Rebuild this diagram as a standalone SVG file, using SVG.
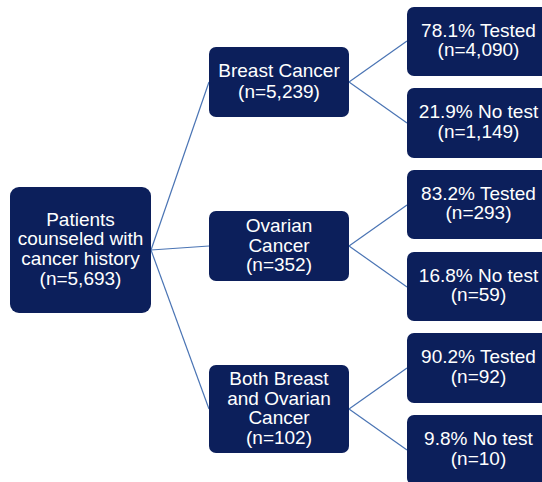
<svg xmlns="http://www.w3.org/2000/svg" width="542" height="482" viewBox="0 0 542 482">
<style>
.box{fill:#0c1f5b;}
.t{fill:#ffffff;font-family:"Liberation Sans",Arial,sans-serif;font-size:19px;text-anchor:middle;}
.c{stroke:#4a74b4;stroke-width:1.2;fill:none;}
</style>
<rect width="542" height="482" fill="#ffffff"/>
<g id="connectors">
<line class="c" x1="151" y1="250" x2="209" y2="82"/>
<line class="c" x1="151" y1="250" x2="209" y2="246"/>
<line class="c" x1="151" y1="250" x2="209" y2="409"/>
<line class="c" x1="349" y1="82" x2="407" y2="41"/>
<line class="c" x1="349" y1="82" x2="407" y2="123"/>
<line class="c" x1="349" y1="246" x2="407" y2="205"/>
<line class="c" x1="349" y1="246" x2="407" y2="287"/>
<line class="c" x1="349" y1="409" x2="407" y2="368"/>
<line class="c" x1="349" y1="409" x2="407" y2="450"/>
</g>
<g id="root">
<rect class="box" x="10" y="187" width="141" height="126" rx="9"/>
<text class="t" x="80.5" y="225.7">Patients</text>
<text class="t" x="80.5" y="245.3">counseled with</text>
<text class="t" x="80.5" y="264.9">cancer history</text>
<text class="t" x="80.5" y="284.5">(n=5,693)</text>
</g>
<g id="breast">
<rect class="box" x="209" y="47" width="140" height="70" rx="7"/>
<text class="t" x="279" y="77.3">Breast Cancer</text>
<text class="t" x="279" y="97.5">(n=5,239)</text>
</g>
<g id="ovarian">
<rect class="box" x="209" y="211" width="140" height="70" rx="7"/>
<text class="t" x="279" y="232">Ovarian</text>
<text class="t" x="279" y="251.6">Cancer</text>
<text class="t" x="279" y="271.2">(n=352)</text>
</g>
<g id="both">
<rect class="box" x="209" y="365" width="140" height="88" rx="7"/>
<text class="t" x="279" y="385">Both Breast</text>
<text class="t" x="279" y="404.5">and Ovarian</text>
<text class="t" x="279" y="424">Cancer</text>
<text class="t" x="279" y="443.5">(n=102)</text>
</g>
<g id="breast-tested">
<rect class="box" x="407" y="7" width="143" height="69" rx="7"/>
<text class="t" x="478.5" y="36.5">78.1% Tested</text>
<text class="t" x="478.5" y="56">(n=4,090)</text>
</g>
<g id="breast-notest">
<rect class="box" x="407" y="88" width="143" height="70" rx="7"/>
<text class="t" x="478.5" y="118.2">21.9% No test</text>
<text class="t" x="478.5" y="137.7">(n=1,149)</text>
</g>
<g id="ovarian-tested">
<rect class="box" x="407" y="170" width="143" height="69" rx="7"/>
<text class="t" x="478.5" y="199.5">83.2% Tested</text>
<text class="t" x="478.5" y="219">(n=293)</text>
</g>
<g id="ovarian-notest">
<rect class="box" x="407" y="252" width="143" height="69" rx="7"/>
<text class="t" x="478.5" y="281.5">16.8% No test</text>
<text class="t" x="478.5" y="301">(n=59)</text>
</g>
<g id="both-tested">
<rect class="box" x="407" y="333" width="143" height="70" rx="7"/>
<text class="t" x="478.5" y="363">90.2% Tested</text>
<text class="t" x="478.5" y="382.5">(n=92)</text>
</g>
<g id="both-notest">
<rect class="box" x="407" y="415" width="143" height="70" rx="7"/>
<text class="t" x="478.5" y="445">9.8% No test</text>
<text class="t" x="478.5" y="464.5">(n=10)</text>
</g>
</svg>
